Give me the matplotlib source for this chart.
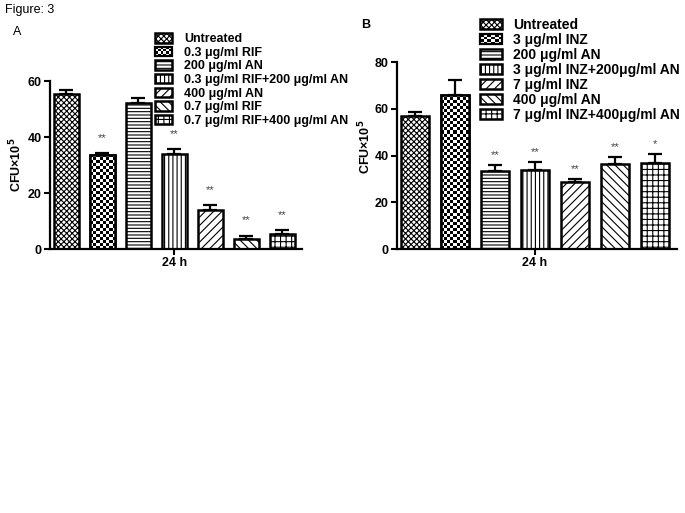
import matplotlib.pyplot as plt
import numpy as np
from matplotlib.legend_handler import HandlerBase
from matplotlib.patches import Rectangle

plt.rcParams['font.family'] = ['Liberation Sans', 'DejaVu Sans']
plt.rcParams['hatch.linewidth'] = 0.8

# data
labels_a = ['Untreated', '0.3 μg/ml RIF', '200 μg/ml AN', '0.3 μg/ml RIF+200 μg/ml AN',
            '400 μg/ml AN', '0.7 μg/ml RIF', '0.7 μg/ml RIF+400 μg/ml AN']
vals_a = [55.5, 33.7, 52.0, 34.0, 14.0, 3.6, 5.5]
err_a = [1.3, 0.5, 2.0, 1.7, 1.7, 1.2, 1.3]
stars_a = ['', '**', '', '**', '**', '**', '**']

labels_b = ['Untreated', '3 μg/ml INZ', '200 μg/ml AN', '3 μg/ml INZ+200μg/ml AN',
            '7 μg/ml INZ', '400 μg/ml AN', '7 μg/ml INZ+400μg/ml AN']
vals_b = [57.2, 66.0, 33.6, 34.0, 28.6, 36.3, 36.8]
err_b = [1.3, 6.3, 2.5, 3.3, 1.4, 3.0, 3.8]
stars_b = ['', '', '**', '**', '**', '**', '*']

patterns = ['xxxxxx', 'checker', '-----', '||||', '////', '\\\\\\\\', '+++']


class CheckerHandler(HandlerBase):
    def create_artists(self, legend, orig_handle, xdescent, ydescent,
                       width, height, fontsize, trans):
        arts = []
        nx, ny = 6, 4
        cw, ch = width / nx, height / ny
        for i in range(nx):
            for j in range(ny):
                if (i + j) % 2:
                    arts.append(Rectangle((-xdescent + i * cw, -ydescent + j * ch), cw, ch,
                                          facecolor='black', edgecolor='none', transform=trans))
        arts.append(Rectangle((-xdescent, -ydescent), width, height, fill=False,
                              edgecolor='black', lw=1.6, transform=trans))
        return arts


def checker_fill(ax, bar, cell=3.0):
    x0, w, h = bar.get_x(), bar.get_width(), bar.get_height()
    p0 = ax.transData.transform((x0, 0))
    p1 = ax.transData.transform((x0 + w, h))
    nc = max(1, int(round((p1[0] - p0[0]) / cell)))
    nr = max(1, int(round((p1[1] - p0[1]) / cell)))
    arr = np.add.outer(np.arange(nr), np.arange(nc)) % 2
    im = ax.imshow(arr, extent=(x0, x0 + w, 0, h), origin='lower', cmap='gray',
                   interpolation='nearest', aspect='auto', zorder=2.5)
    im.set_clip_path(bar)
    ax.bar(x0 + w / 2, h, w, fill=False, edgecolor='black', linewidth=1.8, zorder=3)


def panel(ax, labels, vals, errs, stars, ymax, width, star_off):
    ax.set_xlim(-0.45, 6.55)
    ax.set_ylim(0, ymax)
    x = np.arange(len(vals))
    ax.errorbar(x, vals, yerr=[np.zeros(len(errs)), errs], fmt='none', ecolor='black',
                elinewidth=1.6, capsize=5, capthick=1.6, zorder=1)
    handles = []
    hmap = {}
    for i in range(len(vals)):
        if patterns[i] == 'checker':
            bc = ax.bar(x[i], vals[i], width, facecolor='white', edgecolor='black',
                        linewidth=1.8, zorder=2, label=labels[i])
            checker_fill(ax, bc[0])
            hmap[bc] = CheckerHandler()
        else:
            bc = ax.bar(x[i], vals[i], width, facecolor='white', edgecolor='black',
                        linewidth=1.8, hatch=patterns[i], zorder=2, label=labels[i])
        handles.append(bc)
        if stars[i]:
            ax.annotate(stars[i], (x[i], vals[i] + errs[i]), xytext=(0, star_off),
                        textcoords='offset points', ha='center', va='center',
                        fontsize=8, color='#444444')
    for s in ['top', 'right']:
        ax.spines[s].set_visible(False)
    for s in ['left', 'bottom']:
        ax.spines[s].set_linewidth(1.6)
    ax.set_yticks(np.arange(0, ymax + 1, 20))
    ax.set_xticks([3])
    ax.set_xticklabels(['24 h'])
    ax.tick_params(width=1.5, length=4, labelsize=9, pad=2)
    for t in ax.get_xticklabels() + ax.get_yticklabels():
        t.set_fontweight('bold')
    ax.set_ylabel('CFU×10$^\\mathbf{5}$', fontsize=9, fontweight='bold')
    return handles, hmap


fig = plt.figure(figsize=(6.85, 5.13), dpi=100)
axA = fig.add_axes([50 / 685, 1 - 249 / 513, 252 / 685, 168 / 513])
axB = fig.add_axes([397 / 685, 1 - 249 / 513, 280 / 685, 186.7 / 513])

hA, mA = panel(axA, labels_a, vals_a, err_a, stars_a, 60, 0.7, 11)
hB, mB = panel(axB, labels_b, vals_b, err_b, stars_b, 80, 0.68, 7)
axA.yaxis.set_label_coords(-0.10, 0.5)
axB.yaxis.set_label_coords(-0.085, 0.55)

fig.legend(hA, labels_a, handler_map=mA, loc='upper left',
           bbox_to_anchor=(155 / 685, 1 - 33 / 513), frameon=False, borderpad=0,
           borderaxespad=0, handlelength=1.35, handleheight=0.8, handletextpad=1.0,
           labelspacing=0.12, prop={'size': 9, 'weight': 'bold'})
fig.legend(hB, labels_b, handler_map=mB, loc='upper left',
           bbox_to_anchor=(480 / 685, 1 - 18 / 513), frameon=False, borderpad=0,
           borderaxespad=0, handlelength=1.6, handleheight=0.75, handletextpad=0.75,
           labelspacing=0.07, prop={'size': 10, 'weight': 'bold'})

fig.text(5 / 685, 1 - 10 / 513, 'Figure: 3', fontsize=9, va='center')
fig.text(13 / 685, 1 - 32 / 513, 'A', fontsize=9, va='center')
fig.text(361 / 685, 1 - 25 / 513, 'B', fontsize=9, fontweight='bold', va='center')

fig.savefig('out.png', dpi=100)
